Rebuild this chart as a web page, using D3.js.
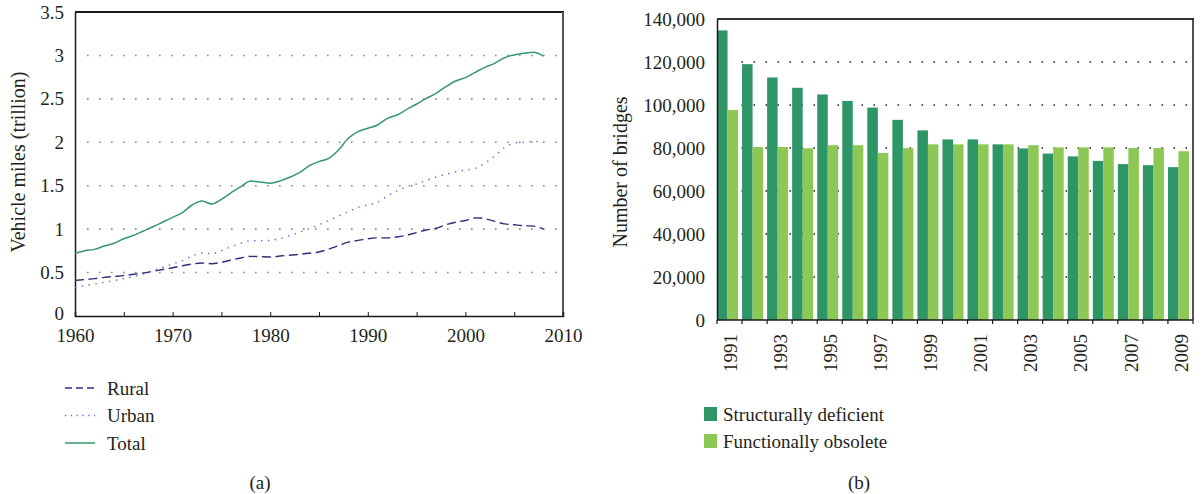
<!DOCTYPE html>
<html>
<head>
<meta charset="utf-8">
<script src="https://cdn.jsdelivr.net/npm/d3@7"></script>
<style>
  html, body { margin: 0; padding: 0; background: #fff; }
  svg { display: block; font-family: "Liberation Serif", "Times New Roman", serif; }
  text { fill: #231f20; }
</style>
</head>
<body>
<svg id="chart" width="1202" height="494"></svg>
<script>
// ---------- Data: panel (a) vehicle miles travelled (trillion) ----------
const years = d3.range(1960, 2009);
const rural = [0.41,0.42,0.43,0.445,0.455,0.465,0.48,0.495,0.515,0.535,0.555,0.578,0.598,0.61,0.602,0.618,0.645,0.668,0.687,0.683,0.679,0.69,0.70,0.71,0.722,0.737,
  0.77,0.81,0.85,0.87,0.89,0.90,0.90,0.91,0.93,0.96,0.99,1.01,1.05,1.08,1.10,1.13,1.12,1.09,1.06,1.05,1.04,1.035,1.00];
const urban = [0.33,0.349,0.368,0.388,0.407,0.43,0.453,0.484,0.522,0.561,0.599,0.637,0.691,0.722,0.718,0.752,0.798,0.837,0.867,0.867,0.872,0.89,0.925,0.963,1.009,1.05,
  1.10,1.15,1.20,1.25,1.28,1.31,1.38,1.44,1.49,1.52,1.56,1.60,1.63,1.66,1.68,1.70,1.76,1.84,1.94,1.99,2.00,2.01,2.00];
const total = [0.72,0.752,0.767,0.806,0.837,0.89,0.929,0.979,1.028,1.082,1.136,1.19,1.278,1.324,1.289,1.343,1.42,1.489,1.554,1.543,1.528,1.554,1.597,1.65,1.73,1.777,
  1.815,1.911,2.046,2.122,2.161,2.199,2.276,2.314,2.379,2.441,2.506,2.564,2.64,2.706,2.744,2.805,2.863,2.909,2.974,3.005,3.024,3.036,2.993];
const lineSeries = ["Rural", "Urban", "Total"];
const xTicksA = [1960, 1970, 1980, 1990, 2000, 2010];
const yTicksA = [0, 0.5, 1, 1.5, 2, 2.5, 3, 3.5];

// ---------- Data: panel (b) number of bridges ----------
const bridgeYears = d3.range(1991, 2010);
const structurallyDeficient = [134700,119000,112800,108000,104900,101900,98800,93100,88200,84000,84000,81700,79800,77400,76100,74000,72500,72000,71100];
const functionallyObsolete = [97700,80500,80500,79900,81300,81300,77700,79900,81700,81700,81700,81700,81300,80300,80300,80300,80000,80000,78500];
const barSeries = ["Structurally deficient", "Functionally obsolete"];
const yTicksB = [0,20000,40000,60000,80000,100000,120000,140000];
const xLabelYearsB = bridgeYears.filter(y => y % 2 === 1);

const svg = d3.select("#chart");
const FT = 19;   // tick labels
const FL = 20;   // axis titles
const FG = 19;   // legend / captions

// ================= Panel (a) =================
const A = {l: 75, r: 563, t: 12, b: 316};
const xa = d3.scaleLinear().domain([1960, 2010]).range([A.l, A.r]);
const ya = d3.scaleLinear().domain([0, 3.5]).range([A.b, A.t]);
const ga = svg.append("g");

// grid
ga.selectAll("line.grid").data(yTicksA.filter(v => v > 0 && v < 3.5)).join("line")
  .attr("x1", A.l + 12).attr("x2", A.r).attr("y1", d => ya(d)).attr("y2", d => ya(d))
  .attr("stroke", "#8a8a8a").attr("stroke-width", 1.6).attr("stroke-dasharray", "1.6 10.4");

// frame
ga.append("line").attr("x1", A.l).attr("x2", A.r + 1).attr("y1", A.t).attr("y2", A.t).attr("stroke", "#1a1a1a").attr("stroke-width", 2);
ga.append("line").attr("x1", A.r).attr("x2", A.r).attr("y1", A.t).attr("y2", A.b).attr("stroke", "#555").attr("stroke-width", 2);

// axes
const xAxisA = d3.axisBottom(xa).tickValues(d3.range(1960, 2011, 5)).tickSize(-4).tickFormat(d => xTicksA.includes(d) ? d : "");
ga.append("g").attr("transform", `translate(0,${A.b})`).call(xAxisA)
  .call(g => { g.select(".domain").attr("stroke", "#1a1a1a").attr("stroke-width", 1.5);
               g.selectAll(".tick line").attr("stroke", "#1a1a1a");
               g.selectAll("text").attr("font-size", FT).attr("font-family", "Liberation Serif").attr("fill", "#231f20").attr("y", 26).attr("dy", "0"); });
const yAxisA = d3.axisLeft(ya).tickValues(yTicksA).tickSize(0).tickPadding(11).tickFormat(d => d);
ga.append("g").attr("transform", `translate(${A.l},0)`).call(yAxisA)
  .call(g => { g.select(".domain").attr("stroke", "#1a1a1a").attr("stroke-width", 1.5);
               g.selectAll("text").attr("font-size", FT).attr("font-family", "Liberation Serif").attr("fill", "#231f20")
                 .attr("dy", d => d === 0 ? "0.18em" : "0.32em"); });

ga.append("text").attr("transform", "translate(25,162) rotate(-90)").attr("text-anchor", "middle")
  .attr("font-size", FL).text("Vehicle miles (trillion)");

const lineStyles = {
  Rural: {data: rural, color: "#2d2f7a", dash: "9 4.5", width: 1.4},
  Urban: {data: urban, color: "#5a6ed0", dash: "1.4 5.5", width: 1.4},
  Total: {data: total, color: "#36996b", dash: null, width: 1.5}
};
const lineGen = d3.line().x(d => xa(d[0])).y(d => ya(d[1])).curve(d3.curveMonotoneX);
lineSeries.forEach(name => {
  const s = lineStyles[name];
  ga.append("path").datum(years.map((y, i) => [y, s.data[i]]))
    .attr("d", lineGen).attr("fill", "none").attr("stroke", s.color)
    .attr("stroke-width", s.width).attr("stroke-dasharray", s.dash);
});

// legend (a)
const legA = ga.append("g");
lineSeries.forEach((name, i) => {
  const s = lineStyles[name];
  const y = 388 + i * 27.5;
  legA.append("line").attr("x1", 65).attr("x2", 95).attr("y1", y).attr("y2", y)
    .attr("stroke", s.color).attr("stroke-width", s.width).attr("stroke-dasharray", name === "Urban" ? "1.3 4.5" : (name === "Rural" ? "7 4" : null));
  legA.append("text").attr("x", 107).attr("y", y).attr("dy", "0.35em").attr("font-size", FG).text(name);
});
ga.append("text").attr("x", 260).attr("y", 482).attr("dy", "0.35em").attr("text-anchor", "middle").attr("font-size", FG).text("(a)");

// ================= Panel (b) =================
const B = {l: 717, r: 1193, t: 19, b: 320};
const xb = d3.scaleBand().domain(bridgeYears).range([B.l, B.r]).paddingInner(0.16).paddingOuter(0.08).align(0);
const xs = d3.scaleBand().domain(barSeries).range([0, xb.bandwidth()]);
const yb = d3.scaleLinear().domain([0, 140000]).range([B.b, B.t]);
const colors = {"Structurally deficient": "#2e9567", "Functionally obsolete": "#8dc856"};
const gb = svg.append("g");

gb.selectAll("line.grid").data(yTicksB.filter(v => v > 0 && v < 140000)).join("line")
  .attr("x1", B.l + 24.5).attr("x2", B.r).attr("y1", d => yb(d)).attr("y2", d => yb(d))
  .attr("stroke", "#1a1a1a").attr("stroke-width", 1.5).attr("stroke-dasharray", "1.5 10.5");

const groups = gb.selectAll("g.grp").data(bridgeYears).join("g").attr("transform", d => `translate(${xb(d)},0)`);
groups.selectAll("rect").data((d, i) => barSeries.map(s => ({s, v: s === barSeries[0] ? structurallyDeficient[i] : functionallyObsolete[i]})))
  .join("rect").attr("x", d => xs(d.s)).attr("width", xs.bandwidth())
  .attr("y", d => yb(d.v)).attr("height", d => yb(0) - yb(d.v)).attr("fill", d => colors[d.s]);

// frame
gb.append("line").attr("x1", B.l).attr("x2", B.r + 1).attr("y1", B.t).attr("y2", B.t).attr("stroke", "#333").attr("stroke-width", 2);
gb.append("line").attr("x1", B.r).attr("x2", B.r).attr("y1", B.t).attr("y2", B.b).attr("stroke", "#1a1a1a").attr("stroke-width", 1.5);

// x axis with ticks at band boundaries
gb.append("line").attr("x1", B.l).attr("x2", B.r).attr("y1", B.b).attr("y2", B.b).attr("stroke", "#1a1a1a").attr("stroke-width", 1.5);
gb.selectAll("line.xt").data(d3.range(bridgeYears.length + 1)).join("line")
  .attr("x1", i => i < bridgeYears.length ? xb(bridgeYears[i]) : B.r)
  .attr("x2", i => i < bridgeYears.length ? xb(bridgeYears[i]) : B.r)
  .attr("y1", B.b).attr("y2", B.b + 4).attr("stroke", "#1a1a1a").attr("stroke-width", 1.2);
gb.selectAll("text.xl").data(xLabelYearsB).join("text")
  .attr("transform", d => `translate(${xb(d) + xb.bandwidth() / 2 + 2.5},334) rotate(-90)`)
  .attr("text-anchor", "end").attr("dy", "0.35em").attr("font-size", FT).text(d => d);

const yAxisB = d3.axisLeft(yb).tickValues(yTicksB).tickSize(0).tickPadding(12).tickFormat(d3.format(","));
gb.append("g").attr("transform", `translate(${B.l},0)`).call(yAxisB)
  .call(g => { g.select(".domain").attr("stroke", "#1a1a1a").attr("stroke-width", 1.5);
               g.selectAll("text").attr("font-size", FT).attr("font-family", "Liberation Serif").attr("fill", "#231f20"); });

gb.append("text").attr("transform", "translate(627,172) rotate(-90)").attr("text-anchor", "middle")
  .attr("font-size", FL).text("Number of bridges");

// legend (b)
barSeries.forEach((name, i) => {
  const y = 414 + i * 27;
  gb.append("rect").attr("x", 704).attr("y", y - 7).attr("width", 13).attr("height", 14).attr("fill", colors[name]);
  gb.append("text").attr("x", 723).attr("y", y).attr("dy", "0.35em").attr("font-size", FG).text(name);
});
gb.append("text").attr("x", 859).attr("y", 482).attr("dy", "0.35em").attr("text-anchor", "middle").attr("font-size", FG).text("(b)");
</script>
</body>
</html>
